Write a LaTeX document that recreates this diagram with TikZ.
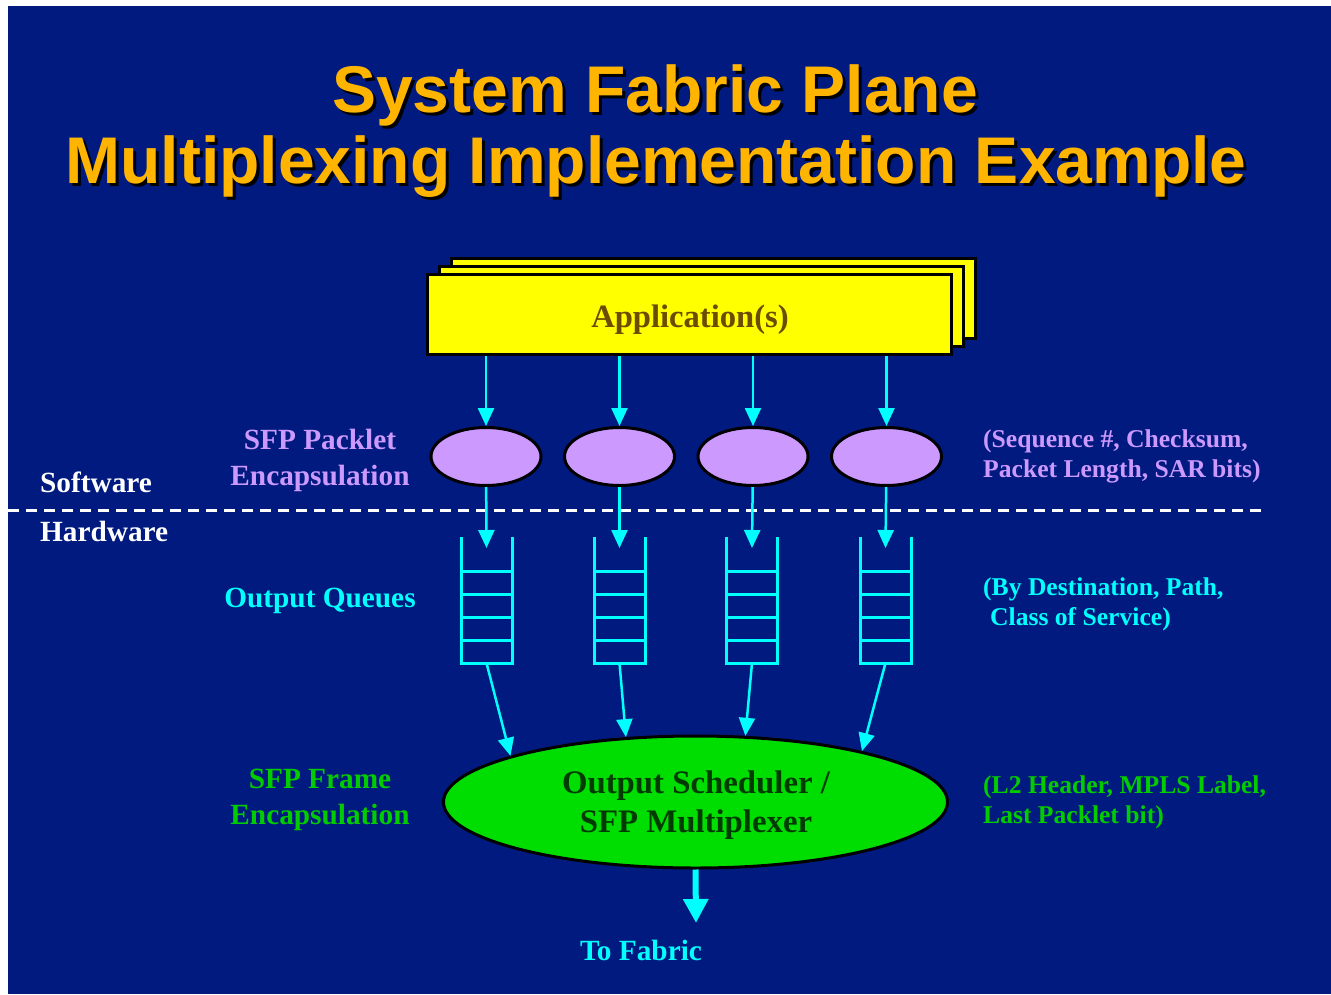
\documentclass[tikz,border=0pt]{standalone}
\usepackage{fontspec}
\setmainfont{Liberation Serif}
\newfontfamily\titlefont{Liberation Sans}
\usetikzlibrary{arrows.meta,shapes.geometric}

\definecolor{slidebg}{RGB}{0,26,128}
\definecolor{titlegold}{RGB}{255,181,0}
\definecolor{appyellow}{RGB}{255,255,0}
\definecolor{appbrown}{RGB}{107,76,0}
\definecolor{lavender}{RGB}{204,153,255}
\definecolor{flowcyan}{RGB}{0,255,255}
\definecolor{schedgreen}{RGB}{0,221,0}
\definecolor{textgreen}{RGB}{0,204,0}
\definecolor{darkgreen}{RGB}{0,60,0}

\begin{document}
\begin{tikzpicture}[x=1pt,y=-1pt,
  titletext/.style={font=\titlefont\bfseries\fontsize{66}{71}\selectfont, anchor=base, inner sep=0pt},
  side/.style={font=\bfseries\fontsize{29.3}{36}\selectfont, align=center, inner sep=0pt},
  note/.style={font=\bfseries\fontsize{25.6}{30}\selectfont, align=left, anchor=base west, inner sep=0pt},
  appbox/.style={draw=black, line width=3pt, fill=appyellow, minimum width=524pt, minimum height=80pt, inner sep=0pt},
  packlet/.style={ellipse, draw=black, line width=3pt, fill=lavender, minimum width=110pt, minimum height=58pt, inner sep=0pt},
  queue/.style={minimum width=51pt, minimum height=126pt, inner sep=0pt, outer sep=0pt},
  qline/.style={flowcyan, line width=3pt},
  sched/.style={ellipse, draw=black, line width=3pt, fill=schedgreen, minimum width=504pt, minimum height=132pt, inner sep=0pt},
  schedtext/.style={font=\bfseries\fontsize{32.8}{39}\selectfont, darkgreen, align=center, anchor=base, inner sep=0pt},
  flow/.style={flowcyan, line width=2.5pt, -{Triangle[width=16pt,length=18pt]}},
  bigflow/.style={flowcyan, line width=6pt, -{Triangle[width=24pt,length=24pt]}},
]
\useasboundingbox (0,0) rectangle (1331,994);
\fill[white] (0,0) rectangle (1331,994);
\fill[slidebg] (8,6) rectangle (1331,994);

% title, gold over a black drop shadow
\node[titletext, black] (title1s) at (658,115) {System Fabric Plane};
\node[titletext, titlegold] (title1) at (655,112) {System Fabric Plane};
\node[titletext, black] (title2s) at (659,186) {Multiplexing Implementation Example};
\node[titletext, titlegold] (title2) at (656,183) {Multiplexing Implementation Example};

% stacked application boxes
\node[appbox] (app3) at (713,298){};
\node[appbox] (app2) at (701,306){};
\node[appbox] (app1) at (689.5,314.5){};
\node[font=\bfseries\fontsize{32.6}{39}\selectfont, appbrown, anchor=base, inner sep=0pt] (apptext) at (690,327){Application(s)};

% packlet encapsulation
\node[packlet] (pk1) at (486,456.5){};
\node[packlet] (pk2) at (619.5,456.5){};
\node[packlet] (pk3) at (753,456.5){};
\node[packlet] (pk4) at (886.5,456.5){};
\draw[flow] (app1.south -| pk1) -- (pk1);
\draw[flow] (app1.south -| pk2) -- (pk2);
\draw[flow] (app1.south -| pk3) -- (pk3);
\draw[flow] (app1.south -| pk4) -- (pk4);

% software / hardware split
\draw[white, line width=3pt, dash pattern=on 11pt off 7pt] (8,510) -- (1265,510);

% output queues
\node[queue] (q1) at (486.5,600){};
\node[queue] (q2) at (619.5,600){};
\node[queue] (q3) at (752,600){};
\node[queue] (q4) at (885.5,600){};
\foreach \q in {q1,q2,q3,q4}{
  \draw[qline] (\q.north west) -- (\q.south west) -- (\q.south east) -- (\q.north east);
  \foreach \k in {1,...,4}
    \draw[qline] ([yshift=\k*22.8pt]\q.south west) -- ([yshift=\k*22.8pt]\q.south east);
}
\draw[flow] (pk1) -- ([yshift=-11pt]q1.north);
\draw[flow] (pk2) -- ([yshift=-11pt]q2.north);
\draw[flow] (pk3) -- ([yshift=-11pt]q3.north);
\draw[flow] (pk4) -- ([yshift=-11pt]q4.north);

% scheduler / multiplexer
\node[sched] (sched) at (695.5,802){};
\node[schedtext] (schedtext) at (696,832){Output Scheduler /\\SFP Multiplexer};
\draw[flow] (q1.south) -- (sched.166);
\draw[flow] (q2.south) -- (sched.137);
\draw[flow] (q3.south) -- (sched.53);
\draw[flow] (q4.south) -- (sched.17);

\coordinate (fabric) at (696,923);
\draw[bigflow] (sched.south) -- (fabric);
\node[side, flowcyan, anchor=base] (fabtext) at (641,960){To Fabric};

% left side labels
\node[side, lavender, anchor=base] (pktlabel) at (320,485){SFP Packlet\\Encapsulation};
\node[side, white, anchor=base west] (swlabel) at (40,492){Software};
\node[side, white, anchor=base west] (hwlabel) at (40,541){Hardware};
\node[side, flowcyan, anchor=base] (qlabel) at (320,607){Output Queues};
\node[side, textgreen, anchor=base] (framelabel) at (320,824){SFP Frame\\Encapsulation};

% right side notes
\node[note, lavender] (pktnote) at (983,477){(Sequence \#, Checksum,\\Packet Length, SAR bits)};
\node[note, flowcyan] (qnote) at (983,625){(By Destination, Path,\\\hspace*{7pt}Class of Service)};
\node[note, textgreen] (framenote) at (983,823){(L2 Header, MPLS Label,\\Last Packlet bit)};
\end{tikzpicture}
\end{document}
